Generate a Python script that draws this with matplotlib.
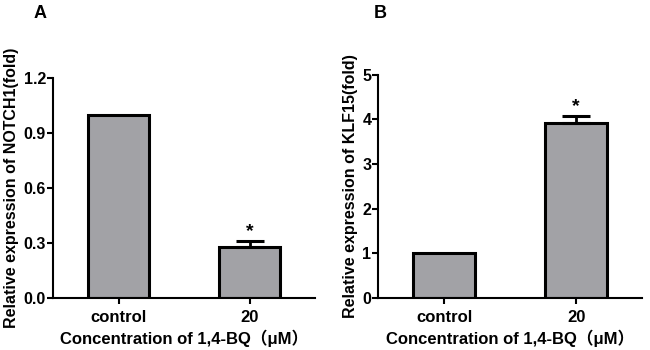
import numpy as np
from matplotlib import pyplot as plt

plt.rcParams['font.family'] = ['Liberation Sans', 'Noto Sans CJK SC', 'DejaVu Sans']
plt.rcParams['font.weight'] = 'bold'

groups = ['control', '20']
notch1 = [1.0, 0.28]
notch1_err = [0.0, 0.03]
klf15 = [1.0, 3.92]
klf15_err = [0.0, 0.15]
stars = ['', '*']

xlab = 'Concentration of 1,4-BQ（μM）'

fig = plt.figure(figsize=(6.5, 3.5), dpi=100)
axA = fig.add_axes([0.0815, 0.149, 0.4035, 0.628])
axB = fig.add_axes([0.582, 0.149, 0.406, 0.637])

def panel(ax, vals, errs, ylim, yticks, ylabel, fmt):
    x = np.arange(len(groups))
    ax.bar(x, vals, width=0.47, color='#a2a2a6', edgecolor='black', linewidth=2.2, zorder=2)
    for xi, v, e, s in zip(x, vals, errs, stars):
        if e > 0:
            ax.errorbar(xi, v, yerr=[[0], [e]], color='black', capsize=10,
                        elinewidth=2, capthick=2.2, zorder=3)
        if s:
            ax.text(xi, v + e + ylim[1] * 0.005, s, ha='center', va='bottom',
                    fontsize=14, fontweight='bold')
    ax.set_xlim(-0.5, 1.5)
    ax.set_ylim(*ylim)
    ax.set_yticks(yticks)
    ax.set_yticklabels([fmt.format(t) for t in yticks])
    ax.set_xticks(x)
    ax.set_xticklabels(groups)
    ax.spines['top'].set_visible(False)
    ax.spines['right'].set_visible(False)
    ax.spines['left'].set_linewidth(1.5)
    ax.spines['bottom'].set_linewidth(1.5)
    ax.tick_params(axis='y', length=4, width=1.5, labelsize=11.5, pad=1)
    ax.tick_params(axis='x', length=4, width=1.5, labelsize=12, pad=5)
    ax.set_ylabel(ylabel, fontsize=11.5, fontweight='bold', labelpad=3)
    ax.set_xlabel(xlab, fontsize=12, fontweight='bold', labelpad=3)

panel(axA, notch1, notch1_err, (0, 1.2), [0.0, 0.3, 0.6, 0.9, 1.2],
      'Relative expression of NOTCH1(fold)', '{:.1f}')
panel(axB, klf15, klf15_err, (0, 5), [0, 1, 2, 3, 4, 5],
      'Relative expression of KLF15(fold)', '{:.0f}')

fig.text(40 / 650, 1 - 14 / 350, 'A', fontsize=13, fontweight='bold', va='center', ha='center')
fig.text(380 / 650, 1 - 14 / 350, 'B', fontsize=13, fontweight='bold', va='center', ha='center')

fig.savefig('out.png', dpi=100)
